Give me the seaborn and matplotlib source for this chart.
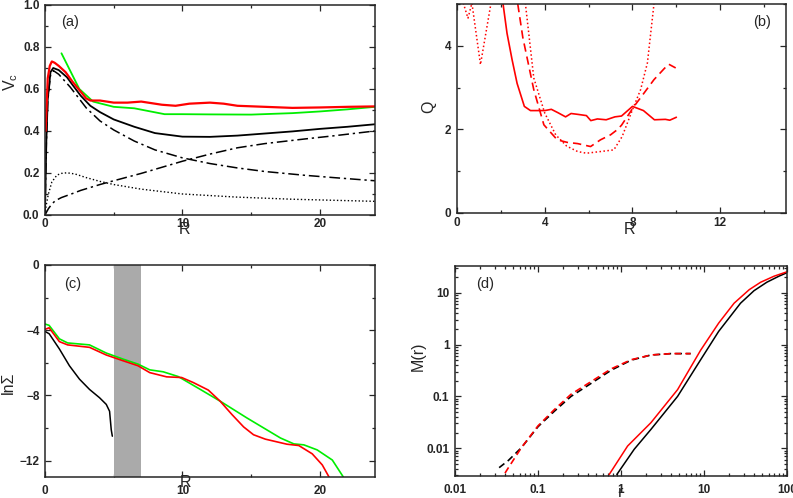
import matplotlib
matplotlib.use("Agg")
import matplotlib.pyplot as plt
from matplotlib import ticker
import numpy as np
import seaborn as sns

# ---------------- panel (a): rotation curve components ----------------
r_a_red = [0.05, 0.2, 0.35, 0.5, 0.7, 1.0, 1.5, 2.0, 2.5, 3.0, 3.3, 4.0, 4.5, 5.0,
           6.0, 7.0, 7.5, 8.5, 9.5, 10.5, 12.0, 13.0, 14.0, 16.0, 18.0, 20.0, 22.0, 24.0]
v_a_red = [0.40, 0.65, 0.71, 0.731, 0.725, 0.71, 0.68, 0.635, 0.595, 0.555, 0.545, 0.545,
           0.54, 0.535, 0.535, 0.54, 0.535, 0.525, 0.52, 0.53, 0.535, 0.53, 0.52, 0.515,
           0.51, 0.512, 0.515, 0.517]

r_a_green = [1.2, 2.5, 3.5, 5.0, 6.5, 8.7, 10.0, 12.0, 15.0, 18.0, 20.0, 22.0, 24.0]
v_a_green = [0.77, 0.60, 0.54, 0.515, 0.508, 0.48, 0.48, 0.479, 0.478, 0.485, 0.493,
             0.503, 0.515]

r_a_total = [0.0, 0.1, 0.2, 0.4, 0.6, 1.0, 1.6, 2.0, 2.6, 3.3, 4.0, 5.0, 6.5, 8.0,
             10.0, 12.0, 14.0, 16.0, 18.0, 20.0, 22.0, 24.0]
v_a_total = [0.0, 0.35, 0.55, 0.68, 0.70, 0.69, 0.656, 0.62, 0.568, 0.52, 0.49, 0.455,
             0.42, 0.39, 0.373, 0.372, 0.378, 0.388, 0.398, 0.41, 0.42, 0.432]

r_a_bulge = [0.0, 0.1, 0.2, 0.4, 0.6, 1.0, 1.85, 3.0, 4.0, 5.0, 6.5, 8.0, 10.0, 12.0,
             14.0, 16.0, 18.9, 21.0, 24.0]
v_a_bulge = [0.0, 0.34, 0.54, 0.665, 0.688, 0.67, 0.608, 0.51, 0.448, 0.405, 0.352,
             0.31, 0.272, 0.245, 0.224, 0.207, 0.189, 0.178, 0.163]

r_a_halo = [0.0, 0.1, 0.25, 0.5, 0.75, 1.2, 2.0, 2.6, 4.0, 5.0, 7.0, 10.0, 12.0, 14.0,
            16.0, 18.9, 21.0, 24.0]
v_a_halo = [0.0, 0.012, 0.03, 0.052, 0.068, 0.083, 0.102, 0.117, 0.145, 0.163, 0.198,
            0.256, 0.29, 0.32, 0.34, 0.362, 0.377, 0.4]

r_a_disk = [0.0, 0.1, 0.25, 0.5, 0.87, 1.2, 1.6, 2.2, 3.0, 4.0, 5.0, 7.0, 10.0, 14.0,
            18.0, 24.0]
v_a_disk = [0.0, 0.05, 0.10, 0.157, 0.19, 0.198, 0.201, 0.195, 0.178, 0.16, 0.145,
            0.123, 0.10, 0.085, 0.075, 0.065]

# ---------------- panel (b): Toomre Q ----------------
r_b_solid = [2.1, 2.28, 2.51, 2.74, 3.07, 3.35, 4.0, 4.3, 4.6, 4.95, 5.2, 5.5, 5.9,
             6.1, 6.4, 6.8, 7.2, 7.5, 8.0, 8.5, 9.0, 9.5, 9.7, 10.0]
q_b_solid = [5.0, 4.3, 3.67, 3.1, 2.55, 2.45, 2.45, 2.48, 2.4, 2.3, 2.38, 2.36, 2.33,
             2.21, 2.25, 2.23, 2.3, 2.32, 2.55, 2.45, 2.23, 2.24, 2.22, 2.29]

r_b_dashed = [2.77, 3.0, 3.5, 3.96, 4.57, 5.02, 5.5, 6.09, 6.54, 7.0, 7.3, 7.5, 8.07,
              8.5, 8.98, 9.44, 9.65, 9.97]
q_b_dashed = [5.0, 4.2, 2.95, 2.11, 1.75, 1.69, 1.66, 1.59, 1.75, 1.87, 1.99, 2.1,
              2.55, 2.85, 3.19, 3.45, 3.56, 3.47]

r_b_dotted = [0.2, 0.3, 0.5, 0.68, 1.07, 1.55, 1.8, 2.5, 2.9, 3.12, 3.5, 4.0, 4.5, 5.0,
              5.5, 5.9, 6.54, 7.15, 7.53, 8.0, 8.37, 8.68, 8.98, 9.2]
q_b_dotted = [5.6, 5.0, 4.66, 5.02, 3.55, 5.02, 6.0, 7.0, 6.0, 5.0, 3.23, 2.39, 1.87,
              1.6, 1.47, 1.43, 1.47, 1.51, 1.83, 2.47, 2.95, 3.59, 5.0, 6.0]

# ---------------- panel (c): surface density profiles ----------------
r_c_green = [0.0, 0.3, 1.05, 1.65, 3.24, 4.46, 5.67, 6.77, 7.62, 8.6, 9.69, 11.28,
             12.74, 14.69, 17.13, 18.1, 18.83, 19.8, 20.9, 21.7]
s_c_green = [-3.62, -3.7, -4.53, -4.78, -4.9, -5.4, -5.77, -6.08, -6.43, -6.55, -6.84,
             -7.62, -8.35, -9.38, -10.61, -10.97, -11.03, -11.34, -11.96, -13.0]

r_c_red = [0.0, 0.3, 1.05, 1.65, 3.24, 4.46, 5.67, 6.77, 7.62, 8.85, 9.94, 10.79, 11.88,
           12.74, 13.6, 14.45, 15.17, 16.03, 17.6, 18.46, 19.44, 20.17, 20.66]
s_c_red = [-3.95, -3.85, -4.7, -4.9, -5.05, -5.52, -5.87, -6.18, -6.6, -6.86, -6.9,
           -7.21, -7.67, -8.35, -9.17, -9.93, -10.41, -10.68, -10.99, -11.07, -11.58,
           -12.26, -13.0]

r_c_black = [0.02, 0.31, 1.05, 1.78, 2.51, 3.24, 3.97, 4.46, 4.7, 4.82, 4.9]
s_c_black = [-4.08, -4.22, -5.15, -6.18, -7.0, -7.63, -8.14, -8.55, -8.97, -10.1, -10.5]

band_c = (5.0, 7.0)

# ---------------- panel (d): enclosed mass ----------------
r_d_dash_black = [0.034, 0.044, 0.063, 0.10, 0.158, 0.25, 0.44, 0.76, 1.32, 2.29, 4.0, 6.9]
m_d_dash_black = [0.0042, 0.0058, 0.0102, 0.026, 0.052, 0.10, 0.18, 0.32, 0.50, 0.63,
                  0.67, 0.67]
r_d_dash_red = [0.04, 0.044, 0.063, 0.10, 0.158, 0.25, 0.44, 0.76, 1.32, 2.29, 4.0, 6.9]
m_d_dash_red = [0.0033, 0.0042, 0.0102, 0.027, 0.056, 0.11, 0.195, 0.34, 0.51, 0.63,
                0.67, 0.67]

r_d_solid_red = [0.72, 1.2, 2.29, 4.8, 9.1, 15.0, 23.0, 35.0, 48.0, 70.0, 100.0]
m_d_solid_red = [0.0031, 0.011, 0.031, 0.135, 0.78, 2.6, 6.3, 11.5, 16.0, 21.0, 25.5]
r_d_solid_black = [0.89, 1.44, 2.29, 4.8, 9.1, 15.0, 27.5, 40.0, 57.0, 80.0, 100.0]
m_d_solid_black = [0.0031, 0.0095, 0.023, 0.10, 0.51, 1.8, 6.3, 11.0, 16.0, 21.0, 24.5]

RED = '#ff0000'
GREEN = '#00ee00'
BLACK = '#000000'

sns.set_style("ticks")
plt.rcParams['font.family'] = ['Liberation Sans', 'DejaVu Sans']
plt.rcParams['mathtext.default'] = 'regular'
plt.rcParams['axes.linewidth'] = 1.1

fig = plt.figure(figsize=(7.93, 4.98), dpi=100)
ax_a = fig.add_axes([0.0567, 0.5683, 0.4161, 0.4217])
ax_b = fig.add_axes([0.5763, 0.5723, 0.4149, 0.4197])
ax_c = fig.add_axes([0.0567, 0.0422, 0.4161, 0.4257])
ax_d = fig.add_axes([0.5738, 0.0442, 0.4187, 0.4217])

DASHDOT = (0, (7, 2.5, 1.5, 2.5))
DOTTED = (0, (1, 1.6))


def finish(ax, xpad):
    ax.tick_params(which='both', direction='in', top=True, right=True,
                   labelsize=8.5, width=0.9)
    ax.tick_params(which='major', length=4.5)
    ax.tick_params(which='minor', length=2.5)
    ax.tick_params(axis='x', pad=xpad)
    ax.tick_params(axis='y', pad=4)
    for lab in ax.get_xticklabels() + ax.get_yticklabels():
        lab.set_fontweight('bold')
    for s in ax.spines.values():
        s.set_visible(True)


# (a)
sns.lineplot(x=r_a_disk, y=v_a_disk, ax=ax_a, color=BLACK, lw=1.0, linestyle=DOTTED)
sns.lineplot(x=r_a_halo, y=v_a_halo, ax=ax_a, color=BLACK, lw=1.1, linestyle=DASHDOT)
sns.lineplot(x=r_a_bulge, y=v_a_bulge, ax=ax_a, color=BLACK, lw=1.1, linestyle=DASHDOT)
sns.lineplot(x=r_a_total, y=v_a_total, ax=ax_a, color=BLACK, lw=1.3)
sns.lineplot(x=r_a_green, y=v_a_green, ax=ax_a, color=GREEN, lw=1.3)
sns.lineplot(x=r_a_red, y=v_a_red, ax=ax_a, color=RED, lw=1.6)
ax_a.set_xlim(0, 24)
ax_a.set_ylim(0, 1.0)
ax_a.xaxis.set_major_locator(ticker.MultipleLocator(10))
ax_a.xaxis.set_minor_locator(ticker.MultipleLocator(5))
ax_a.yaxis.set_major_locator(ticker.MultipleLocator(0.2))
ax_a.yaxis.set_minor_locator(ticker.MultipleLocator(0.1))
ax_a.yaxis.set_major_formatter(ticker.FormatStrFormatter('%.1f'))
ax_a.set_xlabel('R', fontsize=11.5)
ax_a.set_ylabel('V$_c$', fontsize=11.5)
ax_a.xaxis.set_label_coords(0.424, -0.069)
ax_a.yaxis.set_label_coords(-0.104, 0.633)
ax_a.text(0.076, 0.92, '(a)', transform=ax_a.transAxes, fontsize=10.5,
          ha='center', va='center')
finish(ax_a, 2)

# (b)
sns.lineplot(x=r_b_dotted, y=q_b_dotted, ax=ax_b, color=RED, lw=1.1, linestyle=DOTTED)
sns.lineplot(x=r_b_dashed, y=q_b_dashed, ax=ax_b, color=RED, lw=1.2, linestyle=(0, (5, 3)))
sns.lineplot(x=r_b_solid, y=q_b_solid, ax=ax_b, color=RED, lw=1.2)
ax_b.set_xlim(0, 15)
ax_b.set_ylim(0, 5)
ax_b.xaxis.set_major_locator(ticker.MultipleLocator(4))
ax_b.xaxis.set_minor_locator(ticker.MultipleLocator(2))
ax_b.yaxis.set_major_locator(ticker.MultipleLocator(2))
ax_b.yaxis.set_minor_locator(ticker.MultipleLocator(1))
ax_b.set_xlabel('R', fontsize=11.5)
ax_b.set_ylabel('Q', fontsize=11.5)
ax_b.xaxis.set_label_coords(0.523, -0.077)
ax_b.yaxis.set_label_coords(-0.085, 0.507)
ax_b.text(0.927, 0.914, '(b)', transform=ax_b.transAxes, fontsize=10.5,
          ha='center', va='center')
finish(ax_b, 3)

# (c)
ax_c.axvspan(band_c[0], band_c[1], color='#aaaaaa', lw=0)
sns.lineplot(x=r_c_black, y=s_c_black, ax=ax_c, color=BLACK, lw=1.1)
sns.lineplot(x=r_c_green, y=s_c_green, ax=ax_c, color=GREEN, lw=1.2)
sns.lineplot(x=r_c_red, y=s_c_red, ax=ax_c, color=RED, lw=1.2)
ax_c.set_xlim(0, 24)
ax_c.set_ylim(-13, 0)
ax_c.xaxis.set_major_locator(ticker.MultipleLocator(10))
ax_c.xaxis.set_minor_locator(ticker.MultipleLocator(5))
ax_c.yaxis.set_major_locator(ticker.MultipleLocator(4))
ax_c.yaxis.set_minor_locator(ticker.MultipleLocator(2))
ax_c.set_xlabel('R', fontsize=11.5)
ax_c.set_ylabel('ln\u03a3', fontsize=11.5)
ax_c.xaxis.set_label_coords(0.425, -0.026)
ax_c.yaxis.set_label_coords(-0.11, 0.443)
ax_c.text(0.083, 0.91, '(c)', transform=ax_c.transAxes, fontsize=10.5,
          ha='center', va='center')
finish(ax_c, 6)

# (d)
ax_d.set_xscale('log')
ax_d.set_yscale('log')
sns.lineplot(x=r_d_dash_black, y=m_d_dash_black, ax=ax_d, color=BLACK, lw=1.2,
             linestyle=(0, (4, 2.5)))
sns.lineplot(x=r_d_dash_red, y=m_d_dash_red, ax=ax_d, color=RED, lw=1.2,
             linestyle=(0, (4, 2.5)))
sns.lineplot(x=r_d_solid_black, y=m_d_solid_black, ax=ax_d, color=BLACK, lw=1.1)
sns.lineplot(x=r_d_solid_red, y=m_d_solid_red, ax=ax_d, color=RED, lw=1.1)
ax_d.set_xlim(0.01, 100)
ax_d.set_ylim(0.0029, 33)
gfmt = ticker.FuncFormatter(lambda v, p: f"{v:g}")
ax_d.xaxis.set_major_locator(ticker.LogLocator(base=10))
ax_d.yaxis.set_major_locator(ticker.LogLocator(base=10))
ax_d.xaxis.set_minor_locator(ticker.LogLocator(base=10, subs=np.arange(2, 10)))
ax_d.yaxis.set_minor_locator(ticker.LogLocator(base=10, subs=np.arange(2, 10)))
ax_d.xaxis.set_major_formatter(gfmt)
ax_d.yaxis.set_major_formatter(gfmt)
ax_d.xaxis.set_minor_formatter(ticker.NullFormatter())
ax_d.yaxis.set_minor_formatter(ticker.NullFormatter())
ax_d.set_xlabel('r', fontsize=11.5)
ax_d.set_ylabel('M(r)', fontsize=11.5)
ax_d.xaxis.set_label_coords(0.5, -0.08)
ax_d.yaxis.set_label_coords(-0.111, 0.571)
ax_d.text(0.09, 0.914, '(d)', transform=ax_d.transAxes, fontsize=10.5,
          ha='center', va='center')
finish(ax_d, 6)

for ax in (ax_a, ax_b, ax_c, ax_d):
    ax.xaxis.label.set_va('center')
    ax.yaxis.label.set_va('center')

fig.savefig('out.png', dpi=100)
